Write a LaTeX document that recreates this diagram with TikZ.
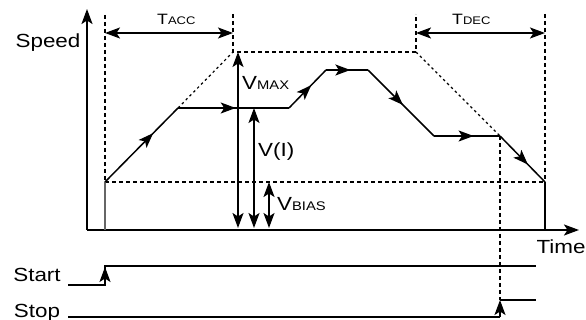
\documentclass[tikz,border=0pt]{standalone}
\usepackage{fontspec}
\newfontfamily\lab{Liberation Sans}[FakeStretch=1.18]
\usetikzlibrary{arrows.meta,decorations.markings}
\newcommand{\fs}[1]{\fontsize{#1}{#1}\selectfont}
\tikzset{
  >={Stealth[length=15pt,width=11pt,inset=3.5pt]},
  axis/.style={line width=1.8pt},
  curve/.style={line width=1.5pt},
  dash line/.style={line width=1.5pt,dash pattern=on 4pt off 3pt},
  dot line/.style={line width=1.2pt,dash pattern=on 2.5pt off 3pt},
  arrowat/.style={postaction={decorate,decoration={markings,mark=at position #1 with {\arrow{Stealth[length=15pt,width=11pt,inset=3.5pt]}}}}},
  txt/.style={inner sep=0pt,anchor=base west,font=\lab\fs{19}},
  txtc/.style={inner sep=0pt,anchor=base,font=\lab\fs{19}},
}
\begin{document}
\begin{tikzpicture}[x=1pt,y=-1pt]
\useasboundingbox (0,0) rectangle (586,320);
% coordinates
\coordinate (O) at (87,230);
\coordinate (ytop) at (87,9);
\coordinate (xend) at (579,230);
\coordinate (p0) at (105,182);
\coordinate (p1) at (178,108);
\coordinate (p2) at (289,108);
\coordinate (p3) at (326,70);
\coordinate (p4) at (368,70);
\coordinate (p5) at (434,136);
\coordinate (p6) at (500,136);
\coordinate (p7) at (545,182);
\coordinate (a0) at (233,52);
\coordinate (d0) at (416,52);
\coordinate (lt) at (105,15);
\coordinate (at) at (233,14);
\coordinate (dt) at (416,14);
\coordinate (rt) at (545,14);
\coordinate (lb) at (105,230);
\coordinate (rb) at (545,230);
% axes
\draw[axis,->] (O) -- (ytop);
\draw[axis,->] (O) -- (xend);
% dashed guides
\draw[dash line] (lt) -- (p0);
\draw[dash line] (at) -- (a0) -- (d0) -- (dt);
\draw[dash line] (rt) -- (p7);
\draw[dash line] (p0) -- (p7);
\coordinate (stopup) at (500,300);
\draw[dash line] (p6) -- (stopup);
\draw[dot line] (p1) -- (a0);
\draw[dot line] (d0) -- (p6);
% verticals at ends
\draw[line width=1.5pt,black!60] (p0) -- (lb);
\draw[line width=1.5pt] (p7) -- (rb);
% speed profile
\draw[curve,arrowat=0.66] (p0) -- (p1);
\draw[curve,arrowat=0.52] (p1) -- (p2);
\draw[curve,arrowat=0.60] (p2) -- (p3);
\draw[curve,arrowat=0.58] (p3) -- (p4);
\draw[curve,arrowat=0.53] (p4) -- (p5);
\draw[curve,arrowat=0.60] (p5) -- (p6);
\draw[curve,arrowat=0.62] (p6) -- (p7);
% time spans
\coordinate (tal) at (105,33);
\coordinate (tar) at (233,33);
\coordinate (tdl) at (416,33);
\coordinate (tdr) at (545,33);
\draw[line width=1.6pt,<->] (tal) -- (tar);
\draw[line width=1.6pt,<->] (tdl) -- (tdr);
% vertical measures
\coordinate (vm1) at (238,52);  \coordinate (vm2) at (238,228);
\coordinate (vi1) at (254,108); \coordinate (vi2) at (254,228);
\coordinate (vb1) at (269,182); \coordinate (vb2) at (269,228);
\draw[line width=1.6pt,<->] (vm1) -- (vm2);
\draw[line width=1.6pt,<->] (vi1) -- (vi2);
\draw[line width=1.6pt,<->] (vb1) -- (vb2);
% labels
\node[txtc] (speed) at (48,48) {Speed};
\node[txtc] (time) at (561,254) {Time};
\node[txt,font=\lab\fs{15}] (tacc) at (157,25) {T{\fs{11}ACC}};
\node[txt,font=\lab\fs{15}] (tdec) at (452,25) {T{\fs{11}DEC}};
\node[txt] (vmax) at (242,90) {V{\fs{12.5}MAX}};
\node[txt] (vi) at (258,157) {V(I)};
\node[txt] (vbias) at (277,211) {V{\fs{12.5}BIAS}};
\node[txtc] (start) at (37,282) {Start};
\node[txtc] (stop) at (37,317) {Stop};
% start signal
\coordinate (s0) at (68,285);
\coordinate (s1) at (105,285);
\coordinate (s2) at (105,266);
\coordinate (s3) at (536,266);
\draw[line width=1.5pt] (s0) -- (s1) -- (s2) -- (s3);
\coordinate (s2a) at (105,267);
\draw[line width=1.5pt,->] (s1) -- (s2a);
% stop signal
\coordinate (t0) at (68,317);
\coordinate (t1) at (500,317);
\coordinate (t3) at (536,300);
\draw[line width=1.5pt] (t0) -- (t1);
\draw[line width=1.5pt,->] (t1) -- (stopup);
\draw[line width=1.5pt] (stopup) -- (t3);
\end{tikzpicture}
\end{document}
